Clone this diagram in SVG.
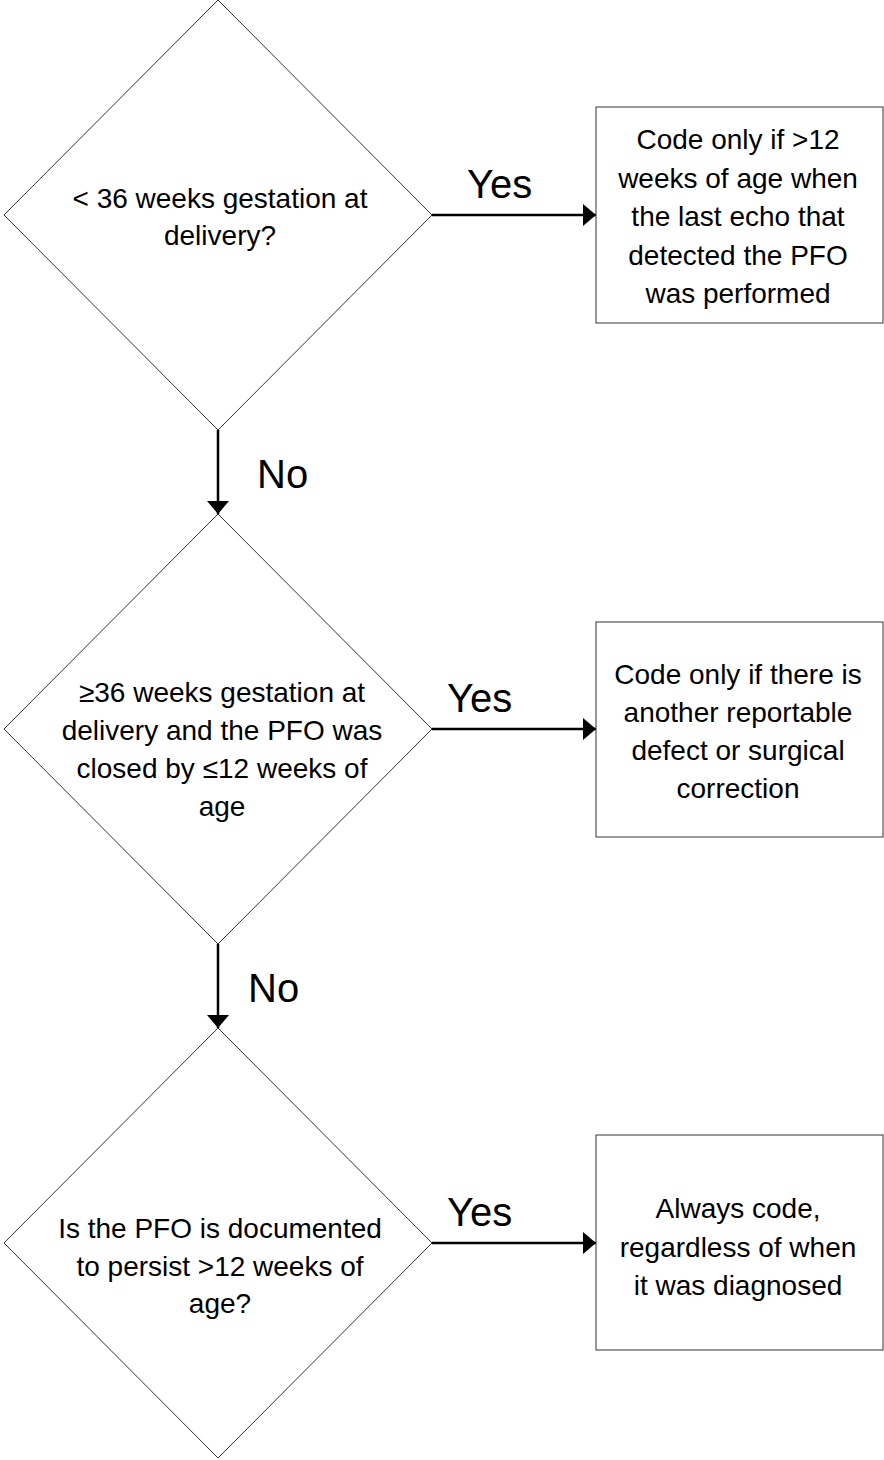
<svg xmlns="http://www.w3.org/2000/svg" width="884" height="1460" viewBox="0 0 884 1460">
<style>
.shape{fill:#fff;stroke:#333;stroke-width:1}
.t{font-family:"Liberation Sans",Arial,sans-serif;font-size:28px;fill:#000;text-anchor:middle}
.lbl{font-family:"Liberation Sans",Arial,sans-serif;font-size:40px;fill:#000}
.conn{stroke:#000;stroke-width:2.5;fill:none}
</style>
<defs>
<marker id="ah" markerUnits="userSpaceOnUse" markerWidth="14" markerHeight="22" refX="13" refY="11" orient="auto">
<path d="M0,0 L13,11 L0,22 Z" fill="#000"/>
</marker>
</defs>
<rect width="884" height="1460" fill="#fff"/>
<g id="connectors">
<line class="conn" x1="218" y1="430" x2="218" y2="514" marker-end="url(#ah)"/>
<line class="conn" x1="218" y1="944" x2="218" y2="1028" marker-end="url(#ah)"/>
<line class="conn" x1="432" y1="215" x2="596" y2="215" marker-end="url(#ah)"/>
<line class="conn" x1="432" y1="729" x2="596" y2="729" marker-end="url(#ah)"/>
<line class="conn" x1="432" y1="1243" x2="596" y2="1243" marker-end="url(#ah)"/>
<text class="lbl" x="467" y="198">Yes</text>
<text class="lbl" x="447" y="712">Yes</text>
<text class="lbl" x="447" y="1226">Yes</text>
<text class="lbl" x="257" y="488">No</text>
<text class="lbl" x="248" y="1002">No</text>
</g>
<g id="d1">
<polygon class="shape" points="218,0 432,215 218,430 4,215"/>
<text class="t" x="220" y="208">&lt; 36 weeks gestation at</text>
<text class="t" x="220" y="245">delivery?</text>
</g>
<g id="d2">
<polygon class="shape" points="218,514 432,729 218,944 4,729"/>
<text class="t" x="222" y="702">≥36 weeks gestation at</text>
<text class="t" x="222" y="740">delivery and the PFO was</text>
<text class="t" x="222" y="778">closed by ≤12 weeks of</text>
<text class="t" x="222" y="816">age</text>
</g>
<g id="d3">
<polygon class="shape" points="218,1028 432,1243 218,1458 4,1243"/>
<text class="t" x="220" y="1238">Is the PFO is documented</text>
<text class="t" x="220" y="1276">to persist &gt;12 weeks of</text>
<text class="t" x="220" y="1313">age?</text>
</g>
<g id="b1">
<rect class="shape" x="596" y="107" width="287" height="216"/>
<text class="t" x="738" y="149">Code only if &gt;12</text>
<text class="t" x="738" y="188">weeks of age when</text>
<text class="t" x="738" y="226">the last echo that</text>
<text class="t" x="738" y="265">detected the PFO</text>
<text class="t" x="738" y="303">was performed</text>
</g>
<g id="b2">
<rect class="shape" x="596" y="622" width="287" height="215"/>
<text class="t" x="738" y="684">Code only if there is</text>
<text class="t" x="738" y="722">another reportable</text>
<text class="t" x="738" y="760">defect or surgical</text>
<text class="t" x="738" y="798">correction</text>
</g>
<g id="b3">
<rect class="shape" x="596" y="1135" width="287" height="215"/>
<text class="t" x="738" y="1218">Always code,</text>
<text class="t" x="738" y="1257">regardless of when</text>
<text class="t" x="738" y="1295">it was diagnosed</text>
</g>
</svg>
